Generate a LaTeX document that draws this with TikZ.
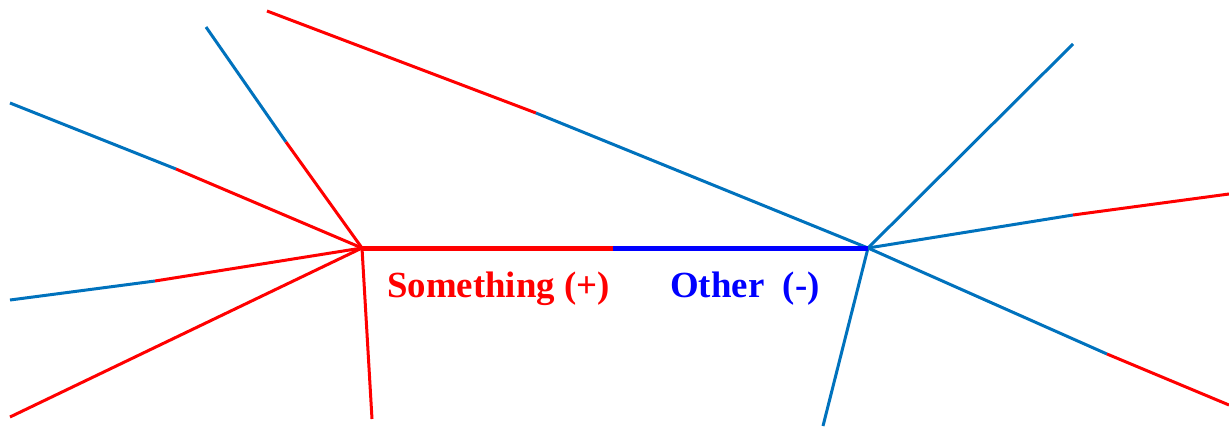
\documentclass[tikz,border=0pt]{standalone}
\usepackage{fontspec}
\setmainfont{Liberation Serif}
\definecolor{mblue}{RGB}{0,114,189}
\definecolor{pred}{RGB}{255,0,0}
\definecolor{pblue}{RGB}{0,0,255}
\begin{document}
\begin{tikzpicture}[x=1bp,y=-1bp,
  thinred/.style={draw=pred,line width=3bp},
  thinblue/.style={draw=mblue,line width=3bp},
  thickred/.style={draw=pred,line width=5bp},
  thickblue/.style={draw=pblue,line width=5bp},
  lbl/.style={font=\fontsize{37}{40}\selectfont\bfseries,inner sep=0pt,anchor=base west}]
\useasboundingbox (0,0) rectangle (1229,426);
% hubs
\coordinate (L) at (362,248);
\coordinate (R) at (868,248);
\coordinate (M) at (613,248);
% left ends
\coordinate (a1) at (206,27);   \coordinate (a1m) at (286,142);
\coordinate (a2) at (10,103);   \coordinate (a2m) at (176,169);
\coordinate (a3) at (10,300);   \coordinate (a3m) at (155,281);
\coordinate (a4) at (10,417);
\coordinate (a5) at (372,419);
% right ends
\coordinate (b1) at (267,11);   \coordinate (b1m) at (536,113);
\coordinate (b2) at (1073,44);
\coordinate (b3) at (1229,194); \coordinate (b3m) at (1073,215);
\coordinate (b4) at (1229,405); \coordinate (b4m) at (1107,354);
\coordinate (b5) at (823,426);
% left fan
\draw[thinblue] (a1) -- (a1m); \draw[thinred] (a1m) -- (L);
\draw[thinblue] (a2) -- (a2m); \draw[thinred] (a2m) -- (L);
\draw[thinblue] (a3) -- (a3m); \draw[thinred] (a3m) -- (L);
\draw[thinred] (a4) -- (L);
\draw[thinred] (a5) -- (L);
% right fan
\draw[thinred] (b1) -- (b1m); \draw[thinblue] (b1m) -- (R);
\draw[thinblue] (b2) -- (R);
\draw[thinblue] (R) -- (b3m); \draw[thinred] (b3m) -- (b3);
\draw[thinblue] (R) -- (b4m); \draw[thinred] (b4m) -- (b4);
\draw[thinblue] (b5) -- (R);
% central bar
\draw[thickred] (L) -- (M);
\draw[thickblue] (M) -- (R);
% labels
\node[lbl,text=pred] (s) at (387,297) {Something (+)};
\node[lbl,text=pblue] (o) at (670,297) {Other\ \ (-)};
\end{tikzpicture}
\end{document}
